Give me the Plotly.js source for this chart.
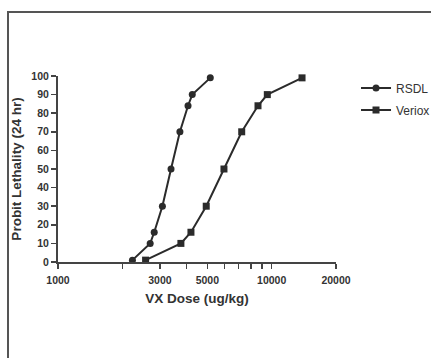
<!DOCTYPE html>
<html>
<head>
<meta charset="utf-8">
<script src="https://cdn.plot.ly/plotly-3.0.1.min.js"></script>
<style>
html,body{margin:0;padding:0;background:#fff;overflow:hidden;}
#wrap{position:absolute;left:0;top:0;width:431px;height:358px;overflow:hidden;}
#frame{position:absolute;left:7px;top:11px;width:430px;height:360px;border-left:2px solid #555;border-top:2px solid #555;pointer-events:none;}
#chart{position:absolute;left:0;top:0;width:431px;height:358px;}
</style>
</head>
<body>
<div id="wrap">
<div id="chart"></div>
<div id="frame"></div>
</div>
<script>
const rsdlDose = [2230, 2700, 2820, 3080, 3380, 3720, 4060, 4250, 5160];
const rsdlLethality = [1, 10, 16, 30, 50, 70, 84, 90, 99];
const veriozDose = [2570, 3760, 4190, 4940, 5980, 7240, 8630, 9540, 13870];
const veriozLethality = [1, 10, 16, 30, 50, 70, 84, 90, 99];
const seriesNames = ["RSDL", "Veriox"];
const xTickVals = [1000, 2000, 3000, 4000, 5000, 6000, 7000, 8000, 9000, 10000, 20000];
const xTickText = ["1000", "", "3000", "", "5000", "", "", "", "", "10000", "20000"];
const yTickVals = [0, 10, 20, 30, 40, 50, 60, 70, 80, 90, 100];

const ink = "#2b2b2b";
const fam = "Liberation Sans, Arial, sans-serif";
const tickFont = {family: fam, size: 10.5, color: "#333", weight: "bold"};
const titleFont = {family: fam, size: 13.5, color: "#333", weight: "bold"};
const legFont = {family: fam, size: 12, color: "#333", weight: "normal"};

const traces = [
  {x: rsdlDose, y: rsdlLethality, name: seriesNames[0], mode: "lines+markers", legend: "legend",
   line: {color: ink, width: 2}, marker: {symbol: "circle", size: 7, color: ink}, cliponaxis: false},
  {x: veriozDose, y: veriozLethality, name: seriesNames[1], mode: "lines+markers", legend: "legend2",
   line: {color: ink, width: 2}, marker: {symbol: "square", size: 7, color: ink}, cliponaxis: false}
];

const layout = {
  width: 431, height: 358,
  margin: {l: 58, r: 95, t: 76, b: 96, autoexpand: false},
  paper_bgcolor: "#fff", plot_bgcolor: "#fff",
  font: {family: fam, size: 11, color: "#333"},
  showlegend: true,
  legend: {x: 1.072, y: 0.935, xanchor: "left", yanchor: "middle",
    font: legFont, itemwidth: 30, bgcolor: "rgba(0,0,0,0)"},
  legend2: {x: 1.072, y: 0.817, xanchor: "left", yanchor: "middle",
    font: legFont, itemwidth: 30, bgcolor: "rgba(0,0,0,0)"},
  xaxis: {
    type: "log", range: [3, Math.log10(20000)], automargin: false,
    tickmode: "array", tickvals: xTickVals, ticktext: xTickText,
    ticks: "outside", ticklen: 5, tickwidth: 1.5, tickcolor: "#444",
    ticklabelstandoff: 2,
    showline: true, linecolor: "#444", linewidth: 2,
    showgrid: false, zeroline: false,
    tickfont: tickFont,
    title: {text: "VX Dose (ug/kg)", font: titleFont, standoff: 9}
  },
  yaxis: {
    range: [0, 100], automargin: false,
    tickmode: "array", tickvals: yTickVals,
    ticks: "outside", ticklen: 5, tickwidth: 1.5, tickcolor: "#444",
    showline: true, linecolor: "#444", linewidth: 2,
    showgrid: false, zeroline: false,
    tickfont: tickFont,
    title: {text: "Probit Lethality (24 hr)", font: titleFont, standoff: 7}
  }
};

Plotly.newPlot("chart", traces, layout, {displayModeBar: false, staticPlot: true});
</script>
</body>
</html>
